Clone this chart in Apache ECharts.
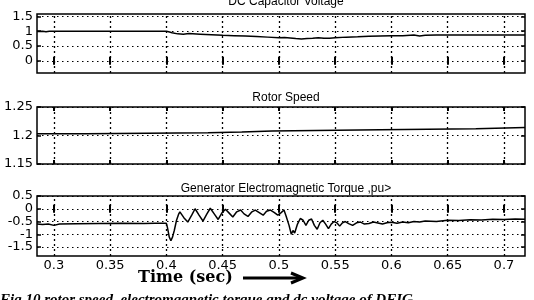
<!DOCTYPE html>
<html>
<head>
<meta charset="utf-8">
<script src="https://cdn.jsdelivr.net/npm/echarts@6/dist/echarts.min.js"></script>
<style>
  html, body { margin: 0; padding: 0; background: #fff; }
  #main { width: 534px; height: 300px; }
</style>
</head>
<body>
<div id="main"></div>
<script>
// time axis (sec)
const xMin = 0.285
const xMax = 0.7187
const xTicks = [0.3, 0.35, 0.4, 0.45, 0.5, 0.55, 0.6, 0.65, 0.7]

// DC capacitor voltage
const dcTicks = [0, 0.5, 1, 1.5]
const dcTime = [0.285, 0.29, 0.293, 0.296, 0.3, 0.31, 0.33, 0.36, 0.38, 0.4, 0.402, 0.405, 0.41, 0.415, 0.42, 0.43, 0.44,
  0.45, 0.46, 0.47, 0.48, 0.49, 0.5, 0.505, 0.51, 0.515, 0.52, 0.525, 0.53, 0.535, 0.54, 0.545, 0.55, 0.56, 0.57,
  0.58, 0.59, 0.6, 0.61, 0.62, 0.625, 0.63, 0.64, 0.65, 0.67, 0.69, 0.7187]
const dcVolt = [0.99, 1.0, 0.98, 1.0, 1.0, 1.0, 1.0, 1.0, 1.0, 1.0, 0.98, 0.95, 0.91, 0.9, 0.92, 0.9, 0.88,
  0.86, 0.85, 0.84, 0.82, 0.8, 0.78, 0.79, 0.77, 0.75, 0.74, 0.75, 0.76, 0.78, 0.76, 0.76, 0.78, 0.8, 0.81,
  0.83, 0.84, 0.85, 0.85, 0.87, 0.84, 0.86, 0.87, 0.87, 0.87, 0.87, 0.87]

// rotor speed (stepwise)
const speedTicks = [1.15, 1.2, 1.25]
const speedTime = [0.285, 0.328, 0.437, 0.467, 0.494, 0.59, 0.675, 0.7187]
const speedVal = [1.203, 1.205, 1.206, 1.208, 1.21, 1.212, 1.214, 1.214]

// generator electromagnetic torque
const torqueTicks = [-1.5, -1, -0.5, 0, 0.5]
const torqueTime = [0.285, 0.29, 0.295, 0.3, 0.305, 0.32, 0.34, 0.36, 0.38, 0.39, 0.4,
  0.401, 0.4025, 0.404, 0.4055, 0.407, 0.409, 0.411, 0.412, 0.4155, 0.419, 0.4225, 0.4255, 0.429,
  0.4325, 0.436, 0.439, 0.4425, 0.446, 0.4495, 0.4525, 0.456, 0.459, 0.4625, 0.466, 0.469, 0.4725,
  0.476, 0.479, 0.4825, 0.486, 0.489, 0.4925, 0.496, 0.499, 0.502, 0.5045, 0.5065, 0.509, 0.511,
  0.5125, 0.514, 0.5165, 0.519, 0.5215, 0.524, 0.5265, 0.529, 0.5315, 0.534, 0.5365, 0.539, 0.5415,
  0.544, 0.5465, 0.549, 0.5515, 0.554, 0.5565, 0.559, 0.562, 0.5655, 0.569, 0.5725, 0.576, 0.58,
  0.584, 0.588, 0.592, 0.596, 0.6, 0.605, 0.61, 0.615, 0.62, 0.625, 0.63, 0.64, 0.65, 0.66, 0.67,
  0.68, 0.69, 0.7, 0.71, 0.7187]
const torqueVal = [-0.6, -0.62, -0.6, -0.65, -0.6, -0.59, -0.58, -0.57, -0.58, -0.57, -0.57,
  -0.75, -1.1, -1.25, -1.1, -0.85, -0.45, -0.2, -0.12, -0.35, -0.52, -0.25, 0.0, -0.25,
  -0.48, -0.2, 0.02, -0.2, -0.42, -0.15, -0.02, -0.18, -0.32, -0.12, -0.05, -0.2, -0.3,
  -0.12, -0.05, -0.15, -0.25, -0.1, -0.05, -0.15, -0.25, -0.15, -0.05, -0.3, -0.65, -1.0,
  -0.85, -0.95, -0.6, -0.38, -0.45, -0.65, -0.45, -0.4, -0.65, -0.8, -0.55, -0.45, -0.6,
  -0.78, -0.6, -0.5, -0.55, -0.68, -0.55, -0.5, -0.58, -0.65, -0.55, -0.52, -0.6, -0.58,
  -0.52, -0.56, -0.6, -0.55, -0.53, -0.57, -0.52, -0.55, -0.5, -0.52, -0.48, -0.5, -0.45, -0.46, -0.43,
  -0.44, -0.41, -0.42, -0.4, -0.41]

const panels = [
  { title: 'DC Capacitor Voltage', titleTop: -9, top: 14, height: 59, min: -0.41, max: 1.58, ticks: dcTicks, time: dcTime, val: dcVolt, step: false },
  { title: 'Rotor Speed', titleTop: 87, top: 107, height: 57, min: 1.15, max: 1.25, ticks: speedTicks, time: speedTime, val: speedVal, step: 'end' },
  { title: 'Generator Electromagnetic Torque ,pu>', titleTop: 178, top: 196, height: 60, min: -1.85, max: 0.5, ticks: torqueTicks, time: torqueTime, val: torqueVal, step: false }
]

const tickFont = { color: '#000', fontFamily: 'DejaVu Sans', fontSize: 13 }
const hDash = { color: '#000', type: [1.5, 3.5], width: 1 }
const vDash = { color: '#000', type: [2, 3], width: 1.3 }

let myChart = echarts.init(document.getElementById('main'), null, { renderer: 'canvas' })

let grid = [], xAxis = [], yAxis = [], series = [], title = []
panels.forEach((p, i) => {
  grid.push({ left: 37, right: 9, top: p.top, height: p.height, show: true, borderColor: '#000', borderWidth: 1.5 })
  title.push({
    text: p.title, left: 281, top: p.titleTop, textAlign: 'center',
    textStyle: { color: '#000', fontFamily: 'Liberation Sans', fontSize: 12, fontWeight: 'normal' }
  })
  // bottom x axis
  xAxis.push({
    type: 'value', gridIndex: i, min: xMin, max: xMax, position: 'bottom',
    axisLine: { show: false },
    axisTick: { show: true, inside: true, length: 4, customValues: xTicks, lineStyle: { color: '#000', width: 2 } },
    axisLabel: { show: i === 2, customValues: xTicks, margin: 3, ...tickFont },
    splitLine: { show: false }
  })
  // top x axis, ticks only
  xAxis.push({
    type: 'value', gridIndex: i, min: xMin, max: xMax, position: 'top',
    axisLine: { show: false },
    axisTick: { show: true, inside: true, length: 4, customValues: xTicks, lineStyle: { color: '#000', width: 2 } },
    axisLabel: { show: false }, splitLine: { show: false }
  })
  // labels split over two left axes so tightly packed ones are not dropped
  const evenTicks = p.ticks.filter((v, k) => k % 2 === 0)
  const oddTicks = p.ticks.filter((v, k) => k % 2 === 1)
  yAxis.push({
    type: 'value', gridIndex: i, min: p.min, max: p.max, position: 'left',
    axisLine: { show: false },
    axisTick: { show: true, inside: true, length: 4, customValues: p.ticks, lineStyle: { color: '#000', width: 1.5 } },
    axisLabel: { show: true, customValues: evenTicks, margin: 4, showMinLabel: true, showMaxLabel: true, ...tickFont },
    splitLine: { show: false }
  })
  yAxis.push({
    type: 'value', gridIndex: i, min: p.min, max: p.max, position: 'right',
    axisLine: { show: false },
    axisTick: { show: true, inside: true, length: 4, customValues: p.ticks, lineStyle: { color: '#000', width: 1.5 } },
    axisLabel: { show: false }, splitLine: { show: false }
  })
  yAxis.push({
    type: 'value', gridIndex: i, min: p.min, max: p.max, position: 'left', offset: 0,
    axisLine: { show: false }, axisTick: { show: false },
    axisLabel: { show: true, customValues: oddTicks, margin: 4, showMinLabel: true, showMaxLabel: true, ...tickFont },
    splitLine: { show: false }
  })
  series.push({
    type: 'line', xAxisIndex: i * 2, yAxisIndex: i * 3,
    data: p.time.map((t, k) => [t, p.val[k]]),
    step: p.step, showSymbol: false, clip: true,
    lineStyle: { color: '#000', width: 1.5 },
    // dotted grid drawn at the tick values
    markLine: {
      silent: true, symbol: 'none', animation: false, label: { show: false },
      data: xTicks.map(v => ({ xAxis: v, lineStyle: vDash }))
        .concat(p.ticks.map(v => ({ yAxis: v, lineStyle: hDash })))
    },
    z: 3
  })
})

let option = {
  animation: false,
  backgroundColor: '#fff',
  title: title,
  grid: grid,
  xAxis: xAxis,
  yAxis: yAxis,
  series: series,
  graphic: [
    {
      type: 'text', left: 138, top: 270,
      style: { text: 'Time (sec)', fill: '#000', font: 'bold 16px "DejaVu Serif"' }
    },
    {
      type: 'line', shape: { x1: 243, y1: 278, x2: 302, y2: 278 },
      style: { stroke: '#000', lineWidth: 3 }
    },
    {
      type: 'polyline', shape: { points: [[291, 273], [303, 278], [291, 283]] },
      style: { stroke: '#000', lineWidth: 3, fill: null }
    },
    {
      type: 'text', left: 0, top: 293,
      style: { text: 'Fig.10 rotor speed, electromagnetic torque and dc voltage of DFIG', fill: '#000', font: 'italic bold 15px "Liberation Serif"' }
    }
  ]
}
myChart.setOption(option)
</script>
</body>
</html>
